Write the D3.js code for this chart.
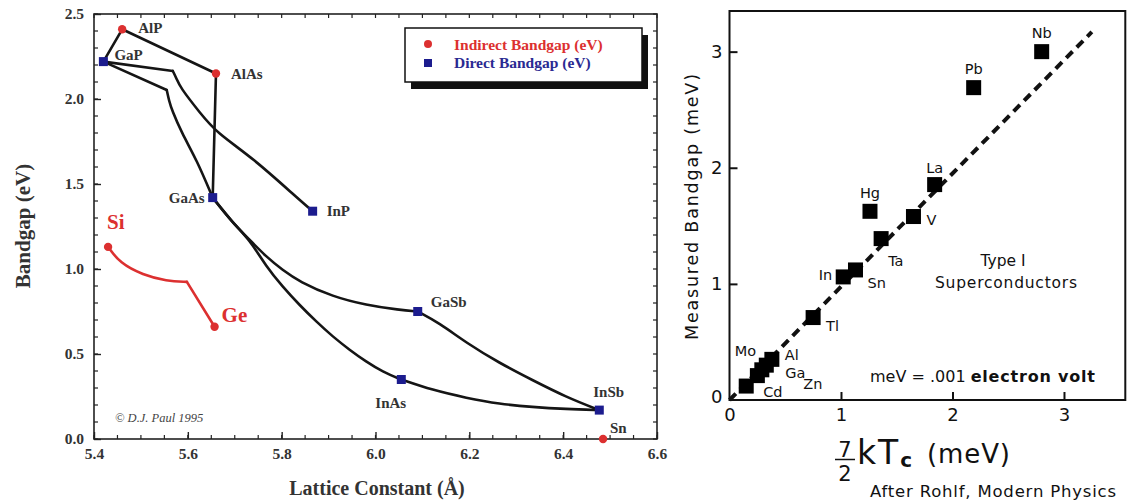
<!DOCTYPE html>
<html>
<head>
<meta charset="utf-8">
<script src="https://cdn.jsdelivr.net/npm/d3@7"></script>
<style>
  body { margin: 0; background: #fff; }
</style>
</head>
<body>
<div id="chart"></div>
<script>
// ---- left panel: band gap vs lattice constant ----
const compoundNames = ["AlP", "GaP", "AlAs", "GaAs", "InP", "GaSb", "InAs", "InSb", "Sn", "Si", "Ge"];
const latticeConst  = [5.46, 5.42, 5.66, 5.653, 5.866, 6.09, 6.055, 6.477, 6.485, 5.43, 5.657];
const bandgapEV     = [2.41, 2.22, 2.15, 1.42, 1.34, 0.75, 0.35, 0.17, 0.0, 1.13, 0.66];
const gapKind       = ["indirect", "direct", "indirect", "direct", "direct", "direct", "direct", "direct", "indirect", "indirect", "indirect"];

// alloy lines (lattice constant, gap)
const alpGap   = [[5.46, 2.41], [5.42, 2.22]];
const alpAlas  = [[5.46, 2.41], [5.66, 2.15]];
const alasGaas = [[5.66, 2.15], [5.653, 1.42]];
const gapInpStraight = [[5.42, 2.22], [5.568, 2.165]];
const gapInpCurve = [[5.568, 2.165], [5.576, 2.12], [5.583, 2.071], [5.626, 1.918], [5.662, 1.80], [5.738, 1.655], [5.838, 1.406], [5.866, 1.34]];
const gapGaasStraight = [[5.42, 2.22], [5.555, 2.053]];
const gapGaasCurve = [[5.555, 2.053], [5.56, 1.99], [5.566, 1.935], [5.587, 1.80], [5.619, 1.641], [5.653, 1.42]];
const gaasGasb = [[5.653, 1.42], [5.696, 1.271], [5.732, 1.171], [5.767, 1.072], [5.802, 0.994], [5.838, 0.925],
  [5.909, 0.837], [5.980, 0.788], [6.051, 0.759], [6.09, 0.75]];
const gaasInas = [[5.653, 1.42], [5.696, 1.271], [5.732, 1.171], [5.767, 1.014], [5.802, 0.896], [5.838, 0.788],
  [5.874, 0.690], [5.909, 0.602], [5.945, 0.524], [5.980, 0.455], [6.015, 0.396], [6.055, 0.35]];
const gasbInsb = [[6.09, 0.75], [6.136, 0.682], [6.194, 0.565], [6.264, 0.447], [6.334, 0.347], [6.406, 0.247], [6.477, 0.17]];
const inasInsb = [[6.055, 0.35], [6.121, 0.288], [6.194, 0.241], [6.264, 0.206], [6.334, 0.188], [6.406, 0.176], [6.477, 0.17]];
const siGeCurve = [[5.43, 1.13], [5.455, 1.035], [5.504, 0.965], [5.555, 0.929], [5.598, 0.924]];
const siGeStraight = [[5.598, 0.924], [5.657, 0.66]];

const latticeTicks = [5.4, 5.6, 5.8, 6.0, 6.2, 6.4, 6.6];
const gapTicks = [0, 0.5, 1.0, 1.5, 2.0, 2.5];
const legendLabels = ["Indirect Bandgap (eV)", "Direct Bandgap (eV)"];

// ---- right panel: superconductor gaps ----
const elementNames = ["Nb", "Pb", "La", "Hg", "V", "Ta", "Sn", "In", "Tl", "Al", "Ga", "Mo", "Zn", "Cd"];
const kTcMeV = [2.80, 2.19, 1.84, 1.26, 1.65, 1.36, 1.13, 1.02, 0.75, 0.38, 0.33, 0.29, 0.25, 0.15];
const gapMeV = [3.00, 2.69, 1.855, 1.625, 1.58, 1.39, 1.12, 1.06, 0.71, 0.35, 0.30, 0.26, 0.21, 0.12];
const fitLine = [[0, 0], [3.25, 3.17]];
const meVTicks = [1, 2, 3];

const svg = d3.select("#chart").append("svg")
  .attr("width", 1133)
  .attr("height", 502);

const serif = "'Liberation Serif', 'Times New Roman', serif";
const sans = "'DejaVu Sans', Verdana, sans-serif";
const red = "#dc3030";
const blue = "#1c1c8e";

// ================= LEFT =================
const xL = d3.scaleLinear().domain([5.4, 6.6]).range([94, 657]);
const yL = d3.scaleLinear().domain([0, 2.5]).range([439, 14]);

const left = svg.append("g").attr("class", "left");

// minor ticks on all four sides (inward)
const xMinor = d3.range(5.4, 6.6001, 0.05);
const yMinor = d3.range(0, 2.5001, 0.1);

function tickRow(vals, scale, isX, pos, dir) {
  left.append("g").selectAll("line").data(vals).join("line")
    .attr("x1", d => isX ? scale(d) : pos)
    .attr("x2", d => isX ? scale(d) : pos + dir * 4)
    .attr("y1", d => isX ? pos : scale(d))
    .attr("y2", d => isX ? pos + dir * 4 : scale(d))
    .attr("stroke", "#222").attr("stroke-width", 1.2);
}
tickRow(xMinor, xL, true, 439, -1);
tickRow(xMinor, xL, true, 14, 1);
tickRow(yMinor, yL, false, 94, 1);
tickRow(yMinor, yL, false, 657, -1);

const xAxisL = left.append("g")
  .attr("transform", "translate(0,439)")
  .call(d3.axisBottom(xL).tickValues(latticeTicks).tickFormat(d3.format(".1f")).tickSize(-7).tickPadding(9));
const yAxisL = left.append("g")
  .attr("transform", "translate(94,0)")
  .call(d3.axisLeft(yL).tickValues(gapTicks).tickFormat(d3.format(".1f")).tickSize(-7).tickPadding(10));

[xAxisL, yAxisL].forEach(a => {
  a.select(".domain").remove();
  a.selectAll(".tick line").attr("stroke", "#222").attr("stroke-width", 1.4);
  a.selectAll(".tick text")
    .style("font-family", serif).style("font-weight", "bold")
    .style("font-size", "15.5px").attr("fill", "#333");
});

left.append("rect")
  .attr("x", 94).attr("y", 14)
  .attr("width", 657 - 94).attr("height", 439 - 14)
  .attr("fill", "none").attr("stroke", "#222").attr("stroke-width", 1.6);

left.append("text")
  .attr("x", 377).attr("y", 495)
  .attr("text-anchor", "middle")
  .style("font-family", serif).style("font-weight", "bold").style("font-size", "20px")
  .attr("fill", "#333")
  .text("Lattice Constant (Å)");

left.append("text")
  .attr("transform", "translate(30,226) rotate(-90)")
  .attr("text-anchor", "middle")
  .style("font-family", serif).style("font-weight", "bold").style("font-size", "21px")
  .attr("fill", "#333")
  .text("Bandgap (eV)");

const straightL = d3.line().x(d => xL(d[0])).y(d => yL(d[1]));
const smoothL = d3.line().x(d => xL(d[0])).y(d => yL(d[1])).curve(d3.curveBasis);
const straightLines = [alpGap, alpAlas, alasGaas, gapInpStraight, gapGaasStraight];
const curvedLines = [gapInpCurve, gapGaasCurve, gaasGasb, gaasInas, gasbInsb, inasInsb];

const blackG = left.append("g")
  .attr("fill", "none").attr("stroke", "#151515")
  .attr("stroke-width", 2.6).attr("stroke-linejoin", "round").attr("stroke-linecap", "round");
blackG.selectAll("path.s").data(straightLines).join("path").attr("class", "s").attr("d", straightL);
blackG.selectAll("path.c").data(curvedLines).join("path").attr("class", "c").attr("d", smoothL);

const redG = left.append("g")
  .attr("fill", "none").attr("stroke", red)
  .attr("stroke-width", 2.6).attr("stroke-linejoin", "round").attr("stroke-linecap", "round");
redG.append("path").datum(siGeCurve).attr("d", smoothL);
redG.append("path").datum(siGeStraight).attr("d", straightL);

const compounds = compoundNames.map((n, i) => ({ name: n, a: latticeConst[i], g: bandgapEV[i], kind: gapKind[i] }));

left.append("g").selectAll("circle").data(compounds.filter(d => d.kind === "indirect")).join("circle")
  .attr("cx", d => xL(d.a)).attr("cy", d => yL(d.g)).attr("r", 4.2)
  .attr("fill", red);

left.append("g").selectAll("rect").data(compounds.filter(d => d.kind === "direct")).join("rect")
  .attr("x", d => xL(d.a) - 4.5).attr("y", d => yL(d.g) - 4.5)
  .attr("width", 9).attr("height", 9)
  .attr("fill", blue);

// label placement, in pixels from each marker
const compoundLabelPos = {
  AlP: [16, 4, "start"], GaP: [11, -2, "start"], AlAs: [15, 5, "start"], GaAs: [-8, 5, "end"],
  InP: [14, 5, "start"], GaSb: [13, -5, "start"], InAs: [-26, 28, "start"], InSb: [-6, -13, "start"],
  Sn: [7, -6, "start"], Si: [-1, -18, "start"], Ge: [7, -5, "start"]
};

left.append("g").selectAll("text").data(compounds).join("text")
  .attr("x", d => xL(d.a) + compoundLabelPos[d.name][0])
  .attr("y", d => yL(d.g) + compoundLabelPos[d.name][1])
  .attr("text-anchor", d => compoundLabelPos[d.name][2])
  .style("font-family", serif).style("font-weight", "bold")
  .style("font-size", d => (d.name === "Si" || d.name === "Ge") ? "21px" : "15px")
  .attr("fill", d => (d.name === "Si" || d.name === "Ge") ? red : "#333")
  .text(d => d.name);

left.append("text")
  .attr("x", 115).attr("y", 422)
  .style("font-family", serif).style("font-style", "italic").style("font-size", "12.5px")
  .attr("fill", "#444")
  .text("© D.J. Paul 1995");

// legend
const legend = left.append("g").attr("transform", "translate(405,28)");
legend.append("rect").attr("x", 6).attr("y", 7).attr("width", 237).attr("height", 54).attr("fill", "#111");
legend.append("rect").attr("width", 237).attr("height", 54).attr("fill", "#fff")
  .attr("stroke", "#111").attr("stroke-width", 1.5);
legend.append("circle").attr("cx", 23).attr("cy", 16).attr("r", 4).attr("fill", red);
legend.append("rect").attr("x", 19).attr("y", 31).attr("width", 8).attr("height", 8).attr("fill", blue);
legend.selectAll("text.lg").data(legendLabels).join("text")
  .attr("class", "lg")
  .attr("x", 49).attr("y", (d, i) => 22 + i * 18)
  .style("font-family", serif).style("font-weight", "bold").style("font-size", "15.5px")
  .attr("fill", (d, i) => i === 0 ? red : "#2a2a92")
  .text(d => d);

// ================= RIGHT =================
const xR = d3.scaleLinear().domain([0, 3.55]).range([729.5, 1125.3]);
const yR = d3.scaleLinear().domain([0, 3.35]).range([400, 11]);
const right = svg.append("g").attr("class", "right");

right.append("rect")
  .attr("x", 729.5).attr("y", 11)
  .attr("width", 1125.3 - 729.5).attr("height", 400 - 11)
  .attr("fill", "none").attr("stroke", "#111").attr("stroke-width", 2);

const xAxisR = right.append("g")
  .attr("transform", "translate(0,400)")
  .call(d3.axisBottom(xR).tickValues([0].concat(meVTicks)).tickSize(-8).tickPadding(8).tickFormat(d3.format("d")));
const yAxisR = right.append("g")
  .attr("transform", "translate(729.5,0)")
  .call(d3.axisLeft(yR).tickValues([0].concat(meVTicks)).tickSize(-8).tickPadding(7).tickFormat(d3.format("d")));

[xAxisR, yAxisR].forEach(a => {
  a.select(".domain").remove();
  a.selectAll(".tick line").attr("stroke", "#111").attr("stroke-width", 2)
    .attr("opacity", d => d === 0 ? 0 : 1);
  a.selectAll(".tick text")
    .style("font-family", sans).style("font-size", "18px").attr("fill", "#111");
});
yAxisR.selectAll(".tick text").attr("dy", d => d === 0 ? "0.15em" : "0.32em");

right.append("path")
  .datum(fitLine)
  .attr("d", d3.line().x(d => xR(d[0])).y(d => yR(d[1])))
  .attr("fill", "none").attr("stroke", "#111")
  .attr("stroke-width", 4).attr("stroke-dasharray", "9,6");

const elements = elementNames.map((n, i) => ({ name: n, x: kTcMeV[i], y: gapMeV[i] }));

right.append("g").selectAll("rect").data(elements).join("rect")
  .attr("x", d => xR(d.x) - 7.5).attr("y", d => yR(d.y) - 7.5)
  .attr("width", 15).attr("height", 15)
  .attr("fill", "#000");

const elementLabelPos = {
  Nb: [0, -14, "middle"], Pb: [0, -14, "middle"], La: [0, -12, "middle"], Hg: [0, -13, "middle"],
  V: [13, 8, "start"], Ta: [7, 27, "start"], Sn: [12, 18, "start"], In: [-11, 3, "end"],
  Tl: [13, 13, "start"], Al: [13, 1, "start"], Ga: [19, 13, "start"], Mo: [-27, -14, "start"],
  Zn: [46, 13, "start"], Cd: [17, 11, "start"]
};

right.append("g").selectAll("text").data(elements).join("text")
  .attr("x", d => xR(d.x) + elementLabelPos[d.name][0])
  .attr("y", d => yR(d.y) + elementLabelPos[d.name][1])
  .attr("text-anchor", d => elementLabelPos[d.name][2])
  .style("font-family", sans).style("font-size", "14.5px").attr("fill", "#111")
  .text(d => d.name);

right.append("text")
  .attr("x", 1003).attr("y", 266).attr("text-anchor", "middle")
  .style("font-family", sans).style("font-size", "15.5px").attr("fill", "#111")
  .text("Type I");
right.append("text")
  .attr("x", 935).attr("y", 288)
  .attr("textLength", 142).attr("lengthAdjust", "spacing")
  .style("font-family", sans).style("font-size", "15.5px").attr("fill", "#111")
  .text("Superconductors");

const noteText = right.append("text")
  .attr("x", 870).attr("y", 382)
  .style("font-family", sans).style("font-size", "16px").attr("fill", "#111");
noteText.append("tspan").text("meV = .001 ");
noteText.append("tspan").style("font-weight", "bold").attr("letter-spacing", "0.8").text("electron volt");

right.append("text")
  .attr("transform", "translate(698,207) rotate(-90)")
  .attr("text-anchor", "middle")
  .attr("textLength", 266).attr("lengthAdjust", "spacing")
  .style("font-family", sans).style("font-size", "17.5px").attr("fill", "#111")
  .text("Measured Bandgap (meV)");

// x label: 7/2 kTc (meV)
const xl = right.append("g").style("font-family", sans).attr("fill", "#111");
xl.append("text").attr("x", 845).attr("y", 457).attr("text-anchor", "middle")
  .style("font-size", "21px").text("7");
xl.append("line").attr("x1", 835).attr("x2", 855).attr("y1", 459.5).attr("y2", 459.5)
  .attr("stroke", "#111").attr("stroke-width", 1.5);
xl.append("text").attr("x", 845).attr("y", 481).attr("text-anchor", "middle")
  .style("font-size", "21px").text("2");
const kt = xl.append("text").attr("x", 857).attr("y", 464).style("font-size", "33px");
kt.append("tspan").attr("letter-spacing", "2").text("kT");
kt.append("tspan").attr("dy", 3).style("font-size", "20px").style("font-weight", "bold").text("c");
xl.append("text").attr("x", 927).attr("y", 463)
  .attr("textLength", 83).attr("lengthAdjust", "spacing")
  .style("font-size", "26px").text("(meV)");

right.append("text")
  .attr("x", 870).attr("y", 497)
  .attr("textLength", 246).attr("lengthAdjust", "spacing")
  .style("font-family", sans).style("font-size", "16.5px").attr("fill", "#111")
  .text("After Rohlf, Modern Physics");
</script>
</body>
</html>
